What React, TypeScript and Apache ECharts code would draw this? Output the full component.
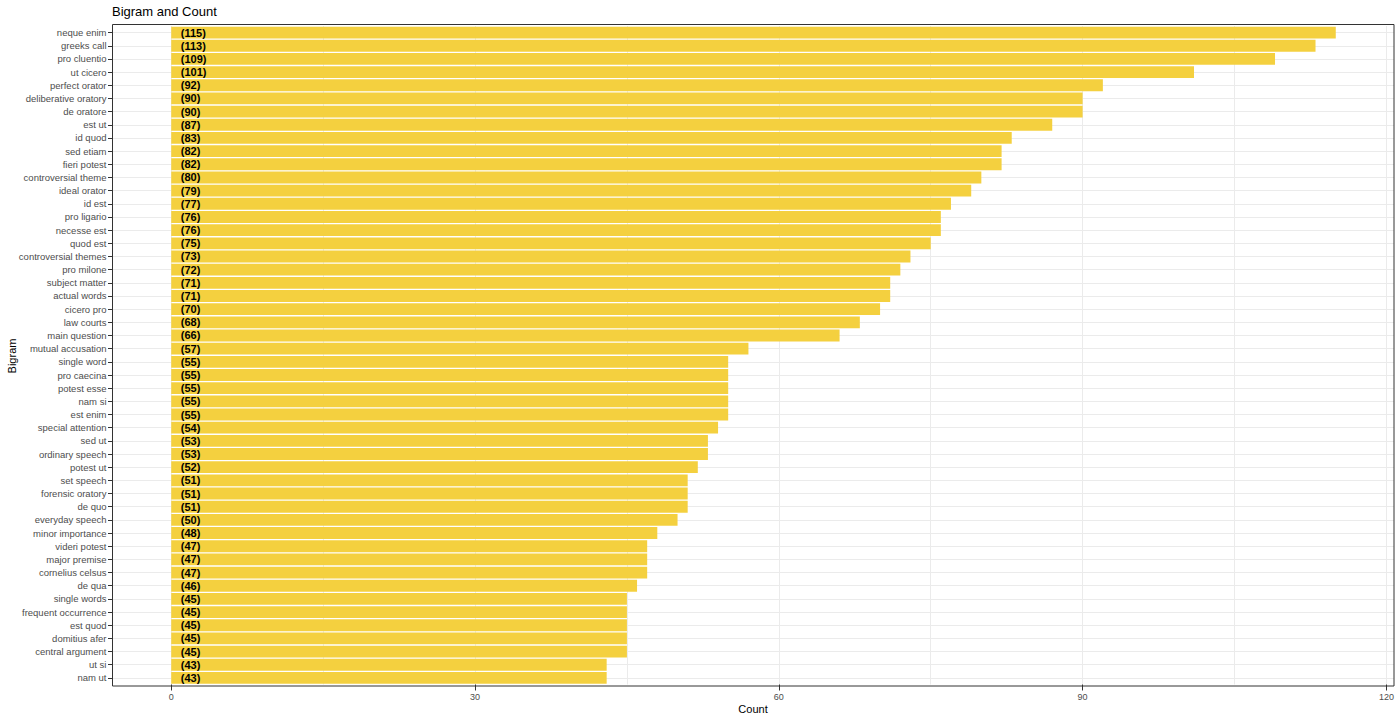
import React, { useEffect, useRef } from 'react';
import * as echarts from 'echarts';

const bigrams: string[] = [
  'neque enim', 'greeks call', 'pro cluentio', 'ut cicero', 'perfect orator',
  'deliberative oratory', 'de oratore', 'est ut', 'id quod', 'sed etiam',
  'fieri potest', 'controversial theme', 'ideal orator', 'id est', 'pro ligario',
  'necesse est', 'quod est', 'controversial themes', 'pro milone', 'subject matter',
  'actual words', 'cicero pro', 'law courts', 'main question', 'mutual accusation',
  'single word', 'pro caecina', 'potest esse', 'nam si', 'est enim',
  'special attention', 'sed ut', 'ordinary speech', 'potest ut', 'set speech',
  'forensic oratory', 'de quo', 'everyday speech', 'minor importance', 'videri potest',
  'major premise', 'cornelius celsus', 'de qua', 'single words', 'frequent occurrence',
  'est quod', 'domitius afer', 'central argument', 'ut si', 'nam ut',
];

const counts: number[] = [
  115, 113, 109, 101, 92, 90, 90, 87, 83, 82,
  82, 80, 79, 77, 76, 76, 75, 73, 72, 71,
  71, 70, 68, 66, 57, 55, 55, 55, 55, 55,
  54, 53, 53, 52, 51, 51, 51, 50, 48, 47,
  47, 47, 46, 45, 45, 45, 45, 45, 43, 43,
];

const majorTicks: number[] = [0, 30, 60, 90, 120];
const minorTicks: number[] = [15, 45, 75, 105];

const FONT = '"Liberation Sans", Arial, sans-serif';
const GRID_COLOR = '#EBEBEB';

export default function App() {
  const chartRef = useRef<HTMLDivElement | null>(null);

  useEffect(() => {
    if (!chartRef.current) return;
    const chart = echarts.init(chartRef.current, null, { renderer: 'svg' });

    const option = {
      animation: false,
      textStyle: { fontFamily: FONT },
      title: {
        text: 'Bigram and Count',
        left: 112,
        top: 5,
        padding: 0,
        textStyle: { fontSize: 13, fontWeight: 'normal', color: '#000', fontFamily: FONT },
      },
      grid: {
        left: 113,
        right: 6,
        top: 26,
        bottom: 35.5,
        containLabel: false,
        outerBoundsMode: 'none',
      },
      xAxis: [
        {
          type: 'value',
          min: -5.75,
          max: 120.75,
          position: 'bottom',
          axisLine: { show: false, onZero: false },
          axisTick: { show: true, length: 6, customValues: majorTicks, lineStyle: { color: '#333' } },
          axisLabel: { customValues: majorTicks, fontSize: 9, color: '#4D4D4D', margin: 8, fontFamily: FONT },
          splitLine: { show: true, lineStyle: { color: GRID_COLOR, width: 1 } },
        },
        {
          type: 'value',
          min: -5.75,
          max: 120.75,
          position: 'top',
          axisLine: { show: false, onZero: false },
          axisTick: { show: false, customValues: minorTicks },
          axisLabel: { show: false, customValues: minorTicks },
          splitLine: { show: true, lineStyle: { color: GRID_COLOR, width: 1 } },
        },
      ],
      yAxis: {
        type: 'category',
        data: bigrams,
        inverse: true,
        position: 'left',
        axisLine: { show: false, onZero: false },
        axisTick: { show: true, alignWithLabel: true, interval: 0, length: 5, lineStyle: { color: '#333' } },
        axisLabel: { interval: 0, fontSize: 9.5, color: '#4D4D4D', margin: 6.5, fontFamily: FONT },
        splitLine: { show: true, alignWithLabel: true, interval: 0, lineStyle: { color: GRID_COLOR, width: 1 } },
      },
      series: [
        {
          type: 'bar',
          xAxisIndex: 0,
          data: counts,
          barWidth: '90%',
          itemStyle: { color: '#F4D03F' },
          label: {
            show: true,
            position: 'insideLeft',
            distance: 9.5,
            formatter: '({c})',
            fontSize: 11,
            fontWeight: 'bold',
            color: '#000',
            fontFamily: FONT,
          },
        },
      ],
      graphic: [
        {
          type: 'rect',
          silent: true,
          z: 100,
          shape: { x: 112.5, y: 24.5, width: 1281.5, height: 661.5 },
          style: { fill: 'none', stroke: '#333', lineWidth: 1 },
        },
        {
          type: 'text',
          silent: true,
          x: 12,
          y: 356,
          rotation: Math.PI / 2,
          style: {
            text: 'Bigram',
            fill: '#000',
            font: '11px "Liberation Sans", Arial, sans-serif',
            align: 'center',
            verticalAlign: 'middle',
          },
        },
        {
          type: 'text',
          silent: true,
          x: 753,
          y: 709,
          style: {
            text: 'Count',
            fill: '#000',
            font: '11px "Liberation Sans", Arial, sans-serif',
            align: 'center',
            verticalAlign: 'middle',
          },
        },
      ],
    };

    chart.setOption(option);
    return () => {
      chart.dispose();
    };
  }, []);

  return (
    <div
      ref={chartRef}
      style={{ position: 'fixed', left: 0, top: 0, width: '1400px', height: '720px', background: '#fff' }}
    ></div>
  );
}
